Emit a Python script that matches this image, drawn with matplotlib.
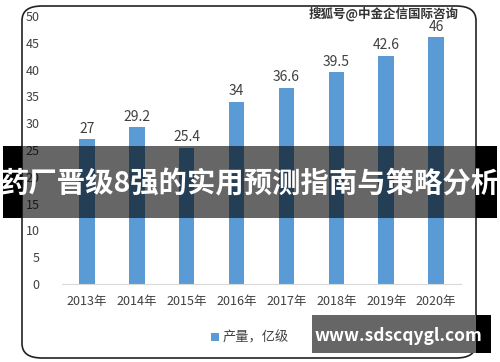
import matplotlib
matplotlib.use("Agg")
import matplotlib.pyplot as plt
from matplotlib.patches import FancyBboxPatch, Rectangle

plt.rcParams['font.family'] = ['Noto Sans CJK SC', 'DejaVu Sans']

years = ["2013年", "2014年", "2015年", "2016年", "2017年", "2018年", "2019年", "2020年"]
output = [27, 29.2, 25.4, 34, 36.6, 39.5, 42.6, 46]
labels = ["27", "29.2", "25.4", "34", "36.6", "39.5", "42.6", "46"]
series_name = "产量，亿级"
banner = "药厂晋级8强的实用预测指南与策略分析"
watermark = "搜狐号@中金企信国际咨询"
site = "www.sdscqygl.com"

W, H = 500, 362
fig = plt.figure(figsize=(W / 100, H / 100), dpi=100)


def fig_rect(x0, y0, w, h, **kw):
    # rectangle given in pixels from the top-left corner
    r = Rectangle((x0 / W, 1 - (y0 + h) / H), w / W, h / H,
                  transform=fig.transFigure, ec="none", **kw)
    fig.patches.append(r)
    return r


# rounded chart frame, behind the axes
frame = FancyBboxPatch((22 / W, 4 / H), 454 / W, 352 / H,
                       boxstyle="round,pad=0,rounding_size=0.04",
                       transform=fig.transFigure, fc="white", ec="#222222", lw=1.2, zorder=-1)
fig.patches.append(frame)

ax = fig.add_axes([62 / W, 1 - 284 / H, 399 / W, 268 / H])
ax.set_zorder(1)
x = range(len(years))
bars = ax.bar(x, output, width=0.31, color="#5B9BD5", label=series_name, zorder=2)
for xi, v, t in zip(x, output, labels):
    ax.text(xi, v + 0.7, t, ha="center", va="bottom", fontsize=10, color="#404040")
ax.set_ylim(0, 50)
ax.set_xlim(-0.5, len(years) - 0.5)
ax.set_yticks(range(0, 51, 5))
ax.set_xticks(list(x))
ax.set_xticklabels(years)
ax.tick_params(axis="both", length=0, labelsize=9, colors="#404040")
ax.tick_params(axis="y", pad=16)
ax.tick_params(axis="x", pad=8)
for s in ["top", "right", "left"]:
    ax.spines[s].set_visible(False)
ax.spines["bottom"].set_color("#D9D9D9")
ax.patch.set_alpha(0)

fig.legend(handles=[bars], labels=[series_name], loc="center", bbox_to_anchor=(250 / W, 1 - 338 / H),
           frameon=False, fontsize=9.5, handlelength=0.6, handleheight=0.6, handletextpad=0.3,
           labelcolor="#404040")

# watermark top right
fig.text(384 / W, 1 - 14 / H, watermark, ha="center", va="center", fontsize=9,
         fontweight="bold", color="#333333", zorder=10)

# banner across middle: solid black ends, translucent over the chart
fig_rect(3, 146, 19, 72, fc="black", zorder=5)
fig_rect(476, 146, 21, 72, fc="black", zorder=5)
fig_rect(22, 146, 454, 72, fc="black", alpha=0.6, zorder=6)
fig.text(250 / W, 1 - 184 / H, banner, ha="center", va="center", fontsize=20.4,
         fontweight="bold", color="white", zorder=10)

# site box bottom right
fig_rect(476, 315, 15, 38, fc="black", zorder=5)
fig_rect(312, 315, 164, 38, fc="#666666", zorder=6)
fig.text(398 / W, 1 - 336 / H, site, ha="center", va="center", fontsize=12.5,
         fontweight="bold", color="white", zorder=10)

fig.savefig("out.png", dpi=100)
